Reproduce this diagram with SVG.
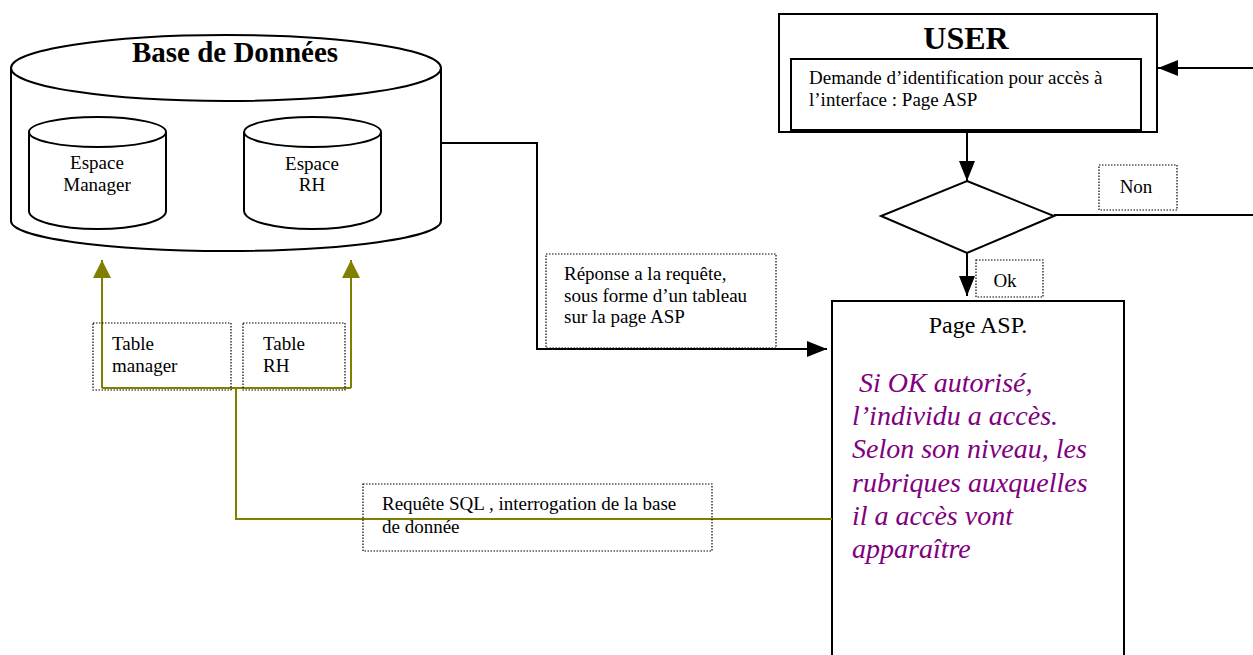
<svg xmlns="http://www.w3.org/2000/svg" width="1253" height="655" viewBox="0 0 1253 655">
<style>
text{font-family:"Liberation Serif","Times New Roman",serif;fill:#000}
.shape{fill:#fff;stroke:#000;stroke-width:2}
.lbl{fill:#fff;stroke:#000;stroke-width:1.2;stroke-dasharray:1.5 1.5}
.blk{fill:none;stroke:#000;stroke-width:2}
.olv{fill:none;stroke:#808000;stroke-width:2}
.t15{font-size:19px}
.t16{font-size:19px}
.pur{font-size:28px;font-style:italic;fill:#800080}
</style>
<defs>
<marker id="ab" viewBox="0 0 20 16" refX="20" refY="8" markerWidth="20" markerHeight="16" markerUnits="userSpaceOnUse" orient="auto"><path d="M0,0L20,8L0,16z" fill="#000"/></marker>
<marker id="ao" viewBox="0 0 18 18" refX="18" refY="9" markerWidth="18" markerHeight="18" markerUnits="userSpaceOnUse" orient="auto"><path d="M0,0L18,9L0,18z" fill="#808000"/></marker>
</defs>

<g id="bdd">
<path class="shape" d="M11,68 L11,221 A215,30 0 0 0 441,221 L441,68"/>
<ellipse class="shape" cx="226" cy="68" rx="215" ry="33"/>
<text x="235" y="62" text-anchor="middle" font-size="29" font-weight="bold">Base de Données</text>
</g>
<g id="espace-manager">
<path class="shape" d="M29,132 L29,211 A68.5,18 0 0 0 166,211 L166,132"/>
<ellipse class="shape" cx="97.5" cy="132" rx="68.5" ry="15"/>
<text class="t16" x="97" y="169" text-anchor="middle">Espace</text>
<text class="t16" x="97" y="191" text-anchor="middle">Manager</text>
</g>
<g id="espace-rh">
<path class="shape" d="M244,132 L244,211 A68.5,18 0 0 0 381,211 L381,132"/>
<ellipse class="shape" cx="312.5" cy="132" rx="68.5" ry="15"/>
<text class="t16" x="312" y="170" text-anchor="middle">Espace</text>
<text class="t16" x="312" y="191" text-anchor="middle">RH</text>
</g>

<g id="user">
<rect class="shape" x="779" y="14" width="378" height="118"/>
<text x="966" y="49" text-anchor="middle" font-size="32" font-weight="bold">USER</text>
<rect class="shape" x="791" y="59" width="350" height="71"/>
<text class="t15" x="809" y="84">Demande d’identification pour accès à</text>
<text class="t15" x="809" y="106">l’interface : Page ASP</text>
</g>

<g id="decision">
<polygon class="shape" points="967,181 1054,216 967,253 881,216"/>
</g>

<g id="page-asp">
<rect class="shape" x="832" y="301" width="292" height="370"/>
<text x="978" y="333" text-anchor="middle" font-size="24">Page ASP.</text>
<text class="pur" x="852" y="392" xml:space="preserve"> Si OK autorisé,</text>
<text class="pur" x="852" y="425">l’individu a accès.</text>
<text class="pur" x="852" y="458">Selon son niveau, les</text>
<text class="pur" x="852" y="492">rubriques auxquelles</text>
<text class="pur" x="852" y="525">il a accès vont</text>
<text class="pur" x="852" y="558">apparaître</text>
</g>

<g id="connectors">
<polyline class="blk" points="441,143 537,143 537,349 827,349" marker-end="url(#ab)"/>
<line class="blk" x1="1253" y1="68" x2="1158" y2="68" marker-end="url(#ab)"/>
<line class="blk" x1="967" y1="132" x2="967" y2="181" marker-end="url(#ab)"/>
<line class="blk" x1="1054" y1="215" x2="1253" y2="215"/>
<line class="blk" x1="967" y1="253" x2="967" y2="296" marker-end="url(#ab)"/>
<polyline class="olv" points="832,519 236,519 236,388"/>
<polyline class="olv" points="102,388 351,388"/>
<line class="olv" x1="102" y1="388" x2="102" y2="260" marker-end="url(#ao)"/>
<line class="olv" x1="351" y1="388" x2="351" y2="260" marker-end="url(#ao)"/>
</g>

<g id="label-reponse">
<rect class="lbl" x="546" y="254" width="230" height="94"/>
<text class="t15" x="564" y="280">Réponse a la requête,</text>
<text class="t15" x="564" y="302">sous forme d’un tableau</text>
<text class="t15" x="564" y="323">sur la page ASP</text>
</g>
<g id="label-non">
<rect class="lbl" x="1099" y="165" width="78" height="45"/>
<text class="t15" x="1136" y="193" text-anchor="middle">Non</text>
</g>
<g id="label-ok">
<rect class="lbl" x="976" y="260" width="67" height="37"/>
<text class="t15" x="1005" y="287" text-anchor="middle">Ok</text>
</g>
<g id="label-table-manager">
<rect class="lbl" x="93" y="323" width="138" height="67" style="fill:none"/>
<text class="t15" x="112" y="350">Table</text>
<text class="t15" x="112" y="372">manager</text>
</g>
<g id="label-table-rh">
<rect class="lbl" x="243" y="323" width="102" height="67" style="fill:none"/>
<text class="t15" x="263" y="350">Table</text>
<text class="t15" x="263" y="372">RH</text>
</g>
<g id="label-sql">
<rect class="lbl" x="363" y="484" width="349" height="67" style="fill:none"/>
<text class="t15" x="382" y="510">Requête SQL , interrogation de la base</text>
<text class="t15" x="382" y="533">de donnée</text>
</g>
</svg>
